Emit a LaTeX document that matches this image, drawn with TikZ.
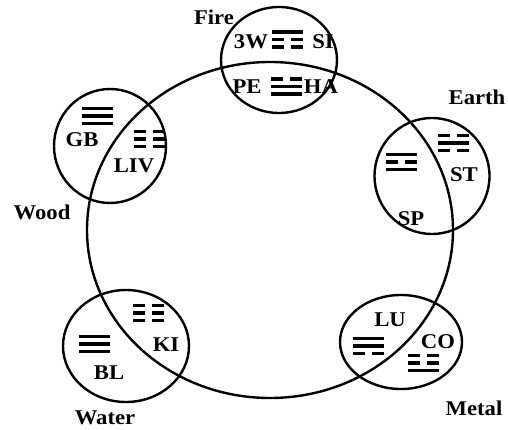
\documentclass[tikz,border=0pt]{standalone}
\usepackage{fontspec}
\setmainfont{Liberation Serif}[FakeStretch=1.08]
\usetikzlibrary{shapes.geometric}
\newcommand\trline[2]{%
  \ifnum#2=1
    \fill (-15.5,#1-1.8) rectangle (15.5,#1+1.8);
  \else
    \fill (-15.5,#1-1.8) rectangle (-3.5,#1+1.8);
    \fill (3.5,#1-1.8) rectangle (15.5,#1+1.8);
  \fi}
\tikzset{
  ring/.style={draw, ellipse, line width=2.4pt, inner sep=0pt},
  lbl/.style={font=\fontsize{21}{21}\selectfont\bfseries, inner sep=0pt},
  pics/tri/.style n args={3}{code={\trline{-7.5}{#1}\trline{0}{#2}\trline{7.5}{#3}}}
}
\begin{document}
\begin{tikzpicture}[x=1pt,y=-1pt]
\useasboundingbox (0,0) rectangle (508,430);
% big cycle
\node[ring, minimum width=366pt, minimum height=336pt] (cycle) at (270,230) {};
% element circles
\node[ring, minimum width=116pt, minimum height=106pt] (fire) at (279,60) {};
\node[ring, minimum width=115pt, minimum height=116pt] (earth) at (432,176) {};
\node[ring, minimum width=112pt, minimum height=114pt] (wood) at (110,146) {};
\node[ring, minimum width=126pt, minimum height=112pt] (water) at (126,346) {};
\node[ring, minimum width=122pt, minimum height=94pt] (metal) at (401,342) {};
% element names
\node[lbl] (firename) at (214,17) {Fire};
\node[lbl] (earthname) at (477,97) {Earth};
\node[lbl] (woodname) at (42,212) {Wood};
\node[lbl] (watername) at (105,418) {Water};
\node[lbl] (metalname) at (474,408) {Metal};
% organ labels
\node[lbl] (tw) at (251,42) {3W};
\node[lbl] (si) at (323,42) {SI};
\node[lbl] (pe) at (247,87) {PE};
\node[lbl] (ha) at (321,87) {HA};
\node[lbl] (sp) at (411,219) {SP};
\node[lbl] (st) at (464,175) {ST};
\node[lbl] (gb) at (82,140) {GB};
\node[lbl] (liv) at (134,166) {LIV};
\node[lbl] (bl) at (109,373) {BL};
\node[lbl] (ki) at (166,345) {KI};
\node[lbl] (lu) at (390,320) {LU};
\node[lbl] (co) at (438,342) {CO};
% trigrams (top, middle, bottom; 1 = solid)
\pic at (287,39.5) {tri={1}{0}{0}};
\pic at (286,86.5) {tri={0}{1}{1}};
\pic at (401,162) {tri={1}{0}{1}};
\pic at (453,143) {tri={0}{1}{0}};
\pic at (97,116) {tri={1}{1}{1}};
\pic at (149,139) {tri={0}{0}{0}};
\pic at (94,344) {tri={1}{1}{1}};
\pic at (148,313) {tri={0}{0}{0}};
\pic at (368,346) {tri={1}{1}{0}};
\pic at (423,363) {tri={0}{0}{1}};
\end{tikzpicture}
\end{document}
